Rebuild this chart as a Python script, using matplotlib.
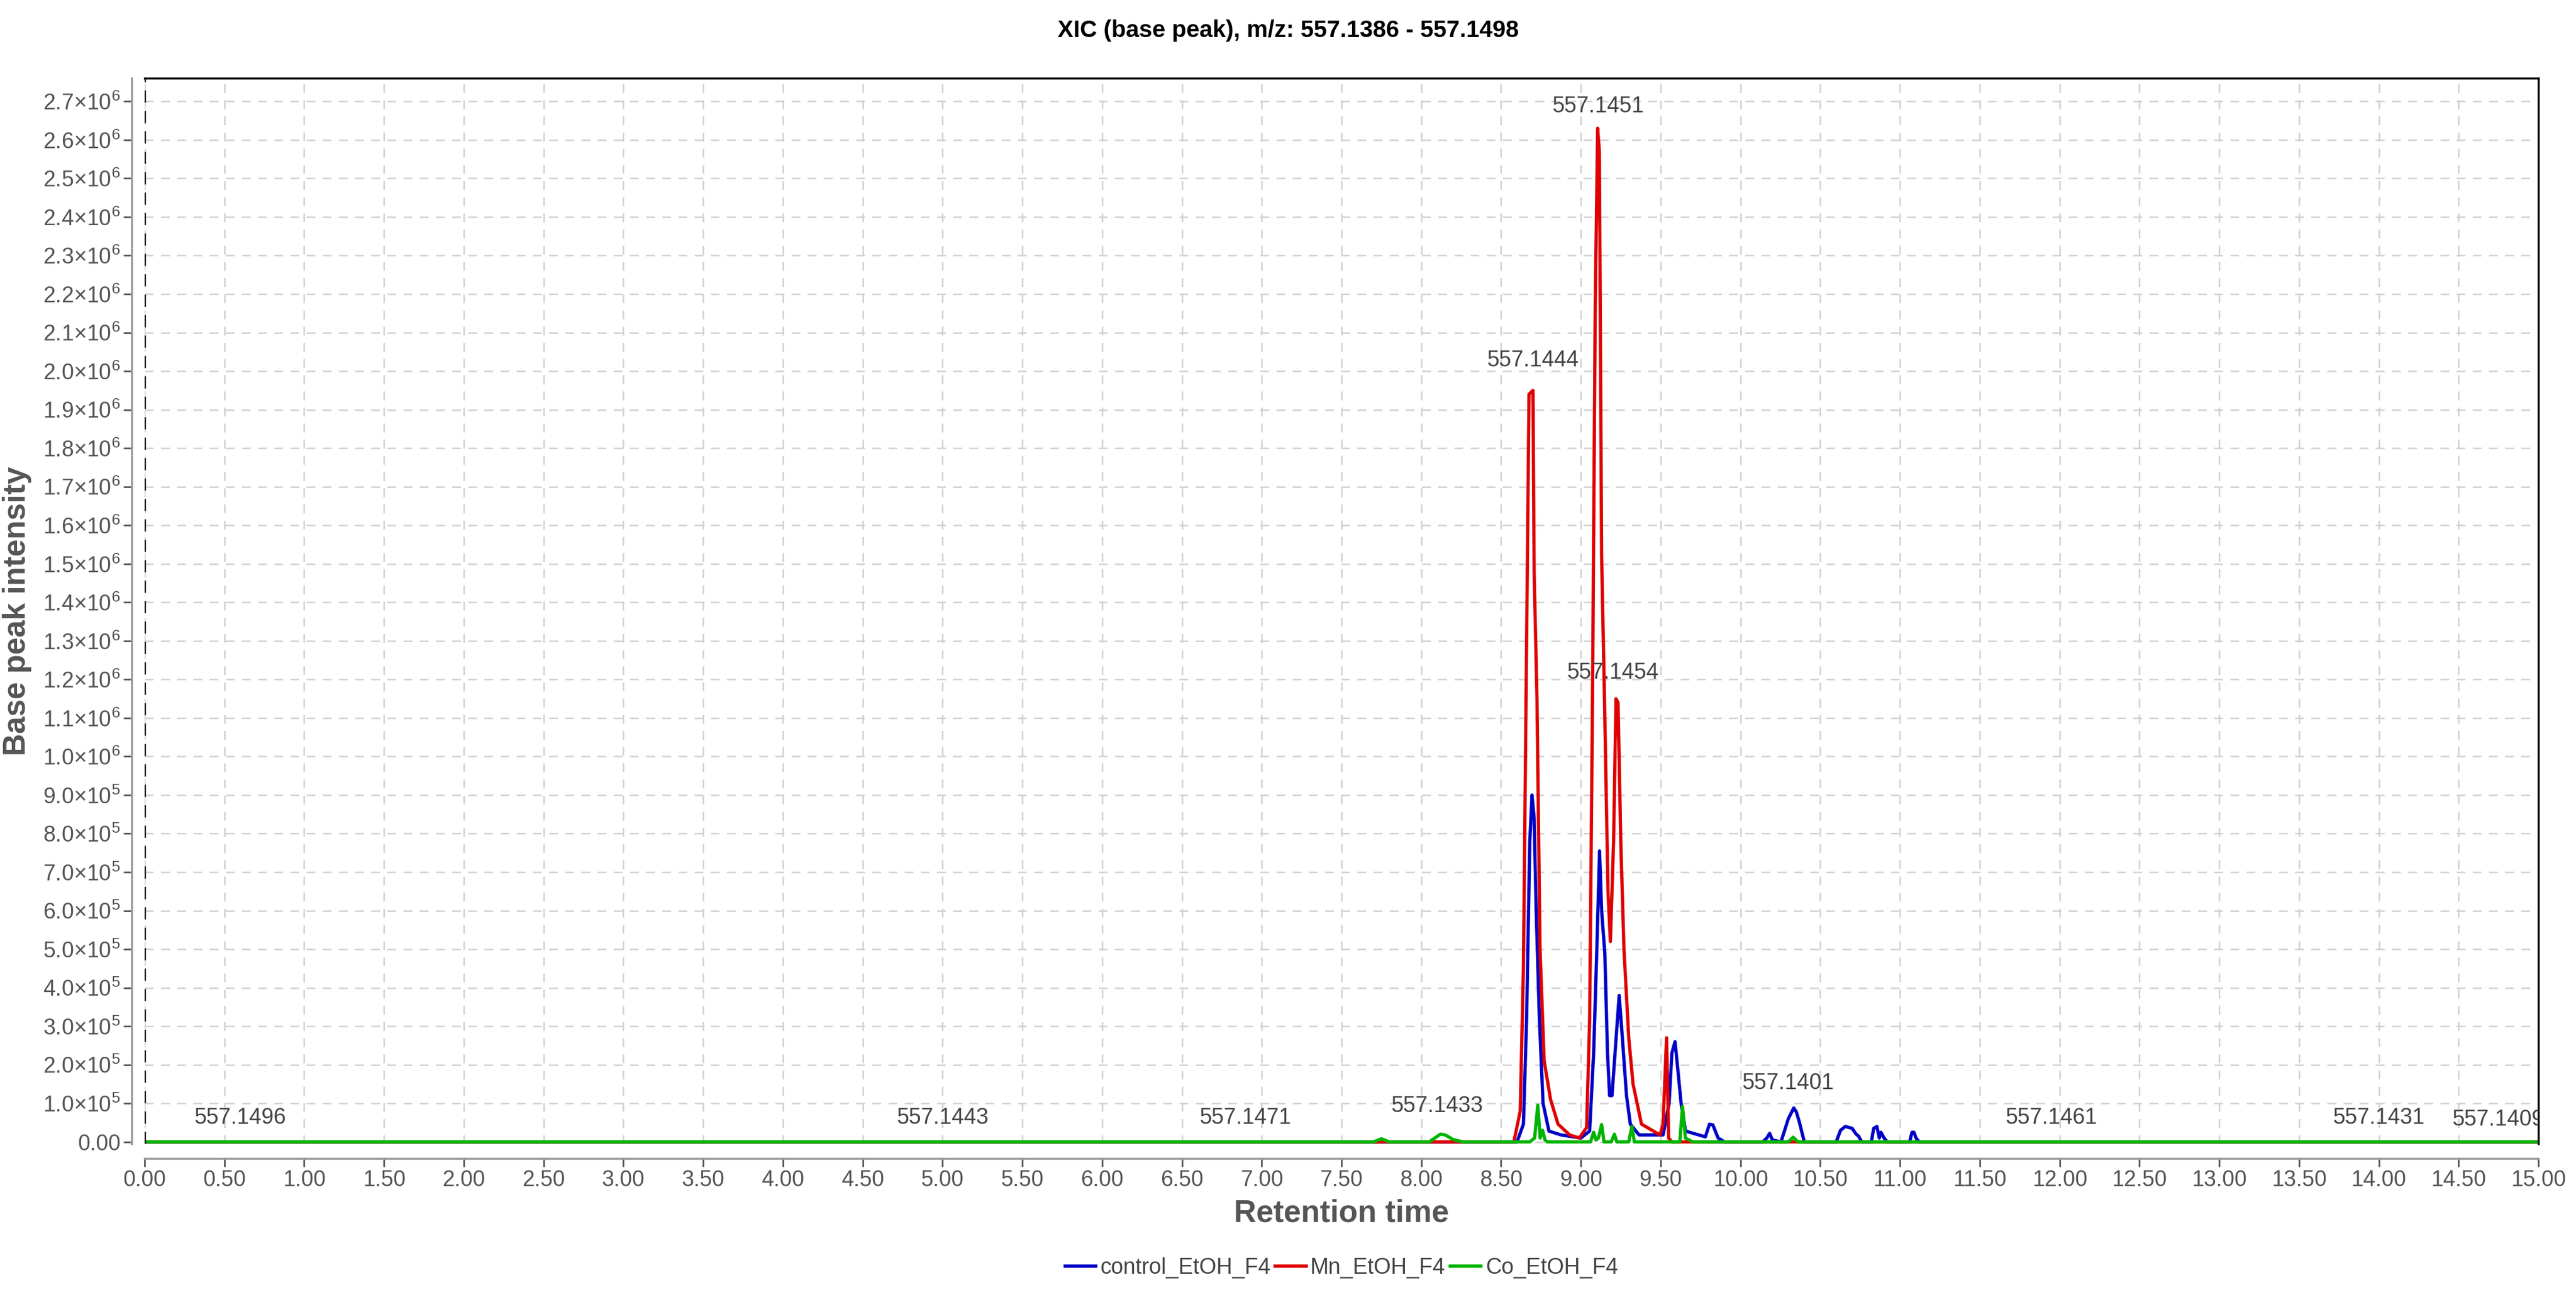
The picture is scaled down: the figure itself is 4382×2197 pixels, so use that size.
import numpy as np
import matplotlib.pyplot as plt
from matplotlib.ticker import FixedLocator, FuncFormatter

plt.rcParams['font.family'] = ['Liberation Sans', 'DejaVu Sans']
plt.rcParams['mathtext.fontset'] = 'custom'
plt.rcParams['mathtext.rm'] = 'Liberation Sans'

# control_EtOH_F4 (blue)
ctrl_t = [0.0, 8.60, 8.64, 8.66, 8.68, 8.694, 8.707, 8.72, 8.74, 8.763, 8.80, 8.876, 9.0, 9.055, 9.08,
          9.10, 9.117, 9.13, 9.15, 9.167, 9.18, 9.195, 9.214, 9.24, 9.26, 9.286, 9.31, 9.365, 9.515,
          9.553, 9.57, 9.59, 9.607, 9.628, 9.656, 9.78, 9.806, 9.827, 9.86, 9.90, 10.14, 10.165, 10.183,
          10.20, 10.254, 10.30, 10.334, 10.35, 10.37, 10.40, 10.60, 10.627, 10.657, 10.70, 10.725, 10.74,
          10.76, 10.82, 10.835, 10.855, 10.87, 10.88, 10.90, 10.92, 11.06, 11.075, 11.087, 11.10, 11.12, 15.0]
ctrl_i = [0.0, 0.0, 0.046, 0.32, 0.78, 0.90, 0.84, 0.60, 0.32, 0.10, 0.028, 0.018, 0.010, 0.028, 0.23,
          0.50, 0.755, 0.60, 0.49, 0.23, 0.12, 0.12, 0.23, 0.38, 0.27, 0.12, 0.046, 0.018, 0.018,
          0.10, 0.23, 0.26, 0.19, 0.10, 0.028, 0.013, 0.046, 0.044, 0.010, 0.0, 0.0, 0.010, 0.022,
          0.005, 0.0, 0.06, 0.088, 0.078, 0.05, 0.0, 0.0, 0.03, 0.040, 0.035, 0.02, 0.015,
          0.0, 0.0, 0.035, 0.040, 0.01, 0.025, 0.01, 0.0, 0.0, 0.025, 0.025, 0.01, 0.0, 0.0]

# Mn_EtOH_F4 (red)
mn_t = [0.0, 8.58, 8.62, 8.64, 8.66, 8.675, 8.70, 8.707, 8.725, 8.744, 8.77, 8.81, 8.857, 8.93, 8.99,
        9.036, 9.055, 9.073, 9.09, 9.105, 9.116, 9.13, 9.148, 9.17, 9.185, 9.205, 9.22, 9.233, 9.25,
        9.27, 9.30, 9.327, 9.38, 9.496, 9.515, 9.537, 9.55, 9.57, 15.0]
mn_i = [0.0, 0.0, 0.08, 0.45, 1.30, 1.94, 1.95, 1.48, 1.15, 0.50, 0.21, 0.11, 0.046, 0.018, 0.010,
        0.037, 0.32, 1.15, 2.17, 2.63, 2.57, 1.52, 1.15, 0.65, 0.52, 0.78, 1.15, 1.14, 0.78,
        0.50, 0.27, 0.15, 0.046, 0.018, 0.046, 0.27, 0.01, 0.0, 0.0]

# Co_EtOH_F4 (green)
co_t = [0.0, 7.70, 7.75, 7.80, 8.05, 8.12, 8.15, 8.20, 8.26, 8.68, 8.71, 8.73, 8.745, 8.76, 8.775, 8.79,
        9.06, 9.08, 9.095, 9.11, 9.13, 9.145, 9.19, 9.21, 9.225, 9.30, 9.32, 9.335, 9.62, 9.637,
        9.655, 9.70, 10.30, 10.33, 10.36, 15.0]
co_i = [0.0, 0.0, 0.008, 0.0, 0.0, 0.02, 0.018, 0.006, 0.0, 0.0, 0.01, 0.095, 0.01, 0.03, 0.005, 0.0,
        0.0, 0.025, 0.005, 0.01, 0.045, 0.0, 0.0, 0.02, 0.0, 0.0, 0.04, 0.0, 0.0, 0.092,
        0.01, 0.0, 0.0, 0.012, 0.0, 0.0]

ann_text = ['557.1496', '557.1443', '557.1471', '557.1433', '557.1444', '557.1451',
            '557.1454', '557.1401', '557.1461', '557.1431', '557.1409']
ann_x = [0.60, 5.00, 6.90, 8.10, 8.70, 9.11, 9.20, 10.30, 11.95, 14.00, 14.75]
ann_y = [0.035, 0.035, 0.035, 0.065, 2.00, 2.66, 1.19, 0.125, 0.035, 0.035, 0.03]

fig = plt.figure(figsize=(43.82, 21.97), dpi=100)
ax = fig.add_axes([246 / 4382, 1 - 1945 / 2197, 4072 / 4382, 1812 / 2197])

ax.plot(ctrl_t, np.array(ctrl_i) * 1e6, color='#0000c8', lw=4, label='control_EtOH_F4')
ax.plot(mn_t, np.array(mn_i) * 1e6, color='#e00000', lw=4, label='Mn_EtOH_F4')
ax.plot(co_t, np.array(co_i) * 1e6, color='#00b400', lw=4, label='Co_EtOH_F4')

for t, x, y in zip(ann_text, ann_x, ann_y):
    ax.text(x, y * 1e6, t, ha='center', va='bottom', fontsize=27, color='#444444', clip_on=True)

ax.set_xlim(0, 15)
ax.set_ylim(-0.005e6, 2.76e6)
ax.axvline(0, color='black', ls=(0, (6, 4)), lw=2.5)

ax.xaxis.set_major_locator(FixedLocator(np.arange(0, 15.01, 0.5)))
ax.xaxis.set_major_formatter(FuncFormatter(lambda v, p: f'{v:.2f}'))
ax.yaxis.set_major_locator(FixedLocator(np.arange(0, 2.71e6, 0.1e6)))


def yfmt(v, p):
    if abs(v) < 1:
        return '0.00'
    e = int(np.floor(np.log10(v) + 1e-9))
    return r'$%.1f{\times}10^{%d}$' % (v / 10 ** e, e)


ax.yaxis.set_major_formatter(FuncFormatter(yfmt))
ax.tick_params(labelsize=27, colors='#555555', length=10, width=2)
ax.grid(True, ls=(0, (6, 5)), color='#d0d0d0', lw=1.8)

ax.spines['top'].set_linewidth(2.5)
ax.spines['right'].set_linewidth(2.5)
ax.spines['bottom'].set_position(('outward', 18))
ax.spines['bottom'].set_color('#999999')
ax.spines['bottom'].set_linewidth(2.5)
ax.spines['left'].set_position(('outward', 16))
ax.spines['left'].set_color('#999999')
ax.spines['left'].set_linewidth(2.5)

ax.set_xlabel('Retention time', fontsize=38, fontweight='bold', color='#555555', labelpad=10)
ax.set_ylabel('Base peak intensity', fontsize=38, fontweight='bold', color='#555555', labelpad=14)
fig.suptitle('XIC (base peak), m/z: 557.1386 - 557.1498', fontsize=29, fontweight='bold', y=0.985)

ax.legend(loc='upper center', bbox_to_anchor=(0.5, -0.088), ncol=3, frameon=False,
          fontsize=27, handlelength=1.4, handletextpad=0.2, columnspacing=0.2,
          labelcolor='#444444')

fig.savefig('out.png', dpi=100)
